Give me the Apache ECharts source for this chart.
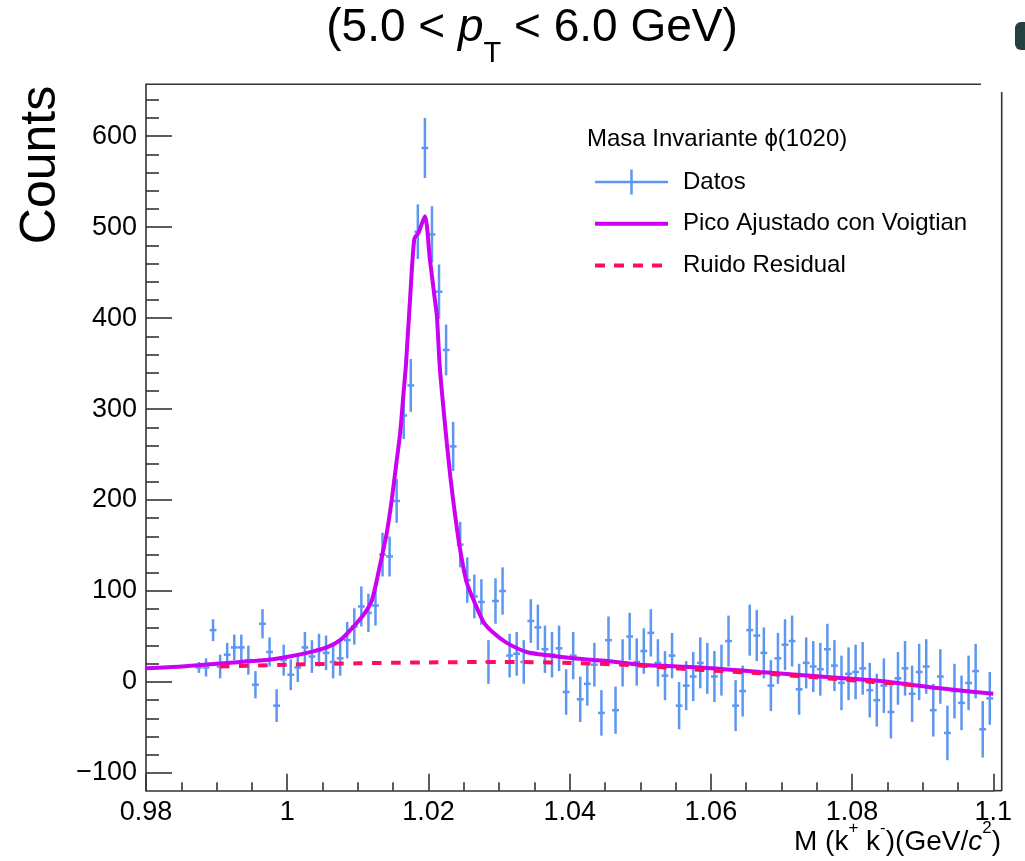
<!DOCTYPE html>
<html><head><meta charset="utf-8">
<script src="https://cdn.jsdelivr.net/npm/echarts@6/dist/echarts.min.js"></script>
<style>html,body{margin:0;padding:0;background:#fff}#c{width:1025px;height:861px}</style>
</head><body><div id="c"></div>
<script>
// Histogram bin centres (GeV/c^2)
const binCenters = [
0.9875,0.9885,0.9895,0.9905,0.9915,0.9925,0.9935,0.9945,0.9955,0.9965,0.9975,0.9985,0.9995,
1.0005,1.0015,1.0025,1.0035,1.0045,1.0055,1.0065,1.0075,1.0085,1.0095,
1.0105,1.0115,1.0125,1.0135,1.0145,1.0155,1.0165,1.0175,1.0185,1.0195,
1.0205,1.0215,1.0225,1.0235,1.0245,1.0255,1.0265,1.0275,1.0285,1.0295,
1.0305,1.0315,1.0325,1.0335,1.0345,1.0355,1.0365,1.0375,1.0385,1.0395,
1.0405,1.0415,1.0425,1.0435,1.0445,1.0455,1.0465,1.0475,1.0485,1.0495,
1.0505,1.0515,1.0525,1.0535,1.0545,1.0555,1.0565,1.0575,1.0585,1.0595,
1.0605,1.0615,1.0625,1.0635,1.0645,1.0655,1.0665,1.0675,1.0685,1.0695,
1.0705,1.0715,1.0725,1.0735,1.0745,1.0755,1.0765,1.0775,1.0785,1.0795,
1.0805,1.0815,1.0825,1.0835,1.0845,1.0855,1.0865,1.0875,1.0885,1.0895,
1.0905,1.0915,1.0925,1.0935,1.0945,1.0955,1.0965,1.0975,1.0985,1.0995];
const counts = [
16,16,57,17,30,38,38,24,-3,64,33,-26,24,
8,16,38,28,35,32,22,26,46,61,
83,76,84,140,138,199,293,326,495,587,
492,429,365,259,151,112,94,88,22,89,
100,29,31,22,67,60,36,30,37,-11,
29,-19,-2,19,-34,46,-31,21,50,22,
34,54,21,7,29,-26,-4,6,21,15,
6,13,45,-26,-10,57,51,32,-4,26,
41,45,-8,21,17,14,36,18,-1,9,
11,15,-9,-20,-4,-33,4,15,-13,11,
17,-31,6,-56,-10,-23,-1,12,-52,-18];
const countErrors = [
6,10,12,13,13,14,14,16,15,16,16,18,17,
17,16,17,18,18,19,18,19,20,20,
22,21,22,24,22,24,26,29,30,33,
31,30,28,27,25,25,24,25,24,25,
26,24,24,24,24,25,26,25,25,25,
26,25,24,24,25,26,26,26,26,26,
25,26,26,27,25,26,27,27,28,28,
28,28,28,28,28,28,28,28,28,28,
28,28,28,28,28,29,28,28,30,29,
30,29,30,29,30,29,29,30,31,31,
30,29,30,30,30,30,30,30,31,29];
// Fitted Voigtian peak + background
const fitX = [0.9800,0.9850,0.9900,0.9950,0.9980,1.0028,1.0056,1.0075,1.0094,1.0110,1.0120,1.0131,1.0141,1.0148,1.0154,1.0160,1.0164,1.0168,1.0171,1.0174,1.0180,1.0186,1.0195,1.0202,1.0209,1.0212,1.0216,1.0221,1.0226,1.0231,1.0238,1.0245,1.0254,1.0264,1.0278,1.0292,1.0311,1.0339,1.0372,1.0405,1.0453,1.0500,1.0585,1.0670,1.0783,1.0840,1.0925,1.1000];
const fitY = [15,17,20,23,25,32,38,46,61,76,90,127,164,200,237,274,311,347,384,421,487,494,512,465,421,402,347,303,263,226,182,145,110,90,66,54,43,33,29,26,23,19,16,11,4.5,1,-7,-13];
// Residual background
const bkgX = [0.9905,1.0000,1.0100,1.0200,1.0300,1.0400,1.0500,1.0560,1.0615,1.0670,1.0722,1.0773,1.0830,1.0895];
const bkgY = [17,19,20.5,21.5,22,21,18,14.5,12,9.5,6.6,3.5,0,-4];
// Axis ticks
const xTickLabels = [0.98,1.00,1.02,1.04,1.06,1.08,1.10];
const yTickLabels = [-100,0,100,200,300,400,500,600];

const xMinor = []; for (let i = 0; i <= 24; i++) { if (i % 4) xMinor.push(+(0.98 + i * 0.005).toFixed(3)); }
const yMinor = []; for (let v = -100; v <= 640; v += 20) { if (v % 100) yMinor.push(v); }

const FONT = '"Liberation Sans", Arial, Helvetica, sans-serif';
const AX = '#333';
const BLUE = '#5d97f2', MAG = '#cc00f2', RED = '#ff0a64';

const dataPts = binCenters.map((x, i) => [x, counts[i], countErrors[i]]);
const fitPts = fitX.map((x, i) => [x, fitY[i]]);
const bkgPts = bkgX.map((x, i) => [x, bkgY[i]]);

const chart = echarts.init(document.getElementById('c'), null, {renderer: 'canvas'});
const XMIN = 0.98, XMAX = 1.1, YMIN = -119.5, YMAX = 657;

chart.setOption({
  animation: false,
  backgroundColor: '#fff',
  textStyle: {fontFamily: FONT},
  title: [{
    text: '{n|(5.0 < }{i|p}{s|T}{n| < 6.0 GeV)}',
    left: 532, top: 5, padding: 0, textAlign: 'center',
    textStyle: {fontWeight: 'normal', rich: {
      n: {fontSize: 46, lineHeight: 50, verticalAlign: 'top', fontWeight: 'normal', color: '#000', fontFamily: FONT},
      i: {fontSize: 46, lineHeight: 50, verticalAlign: 'top', fontWeight: 'normal', fontStyle: 'italic', color: '#000', fontFamily: FONT},
      s: {fontSize: 29, lineHeight: 29, verticalAlign: 'top', fontWeight: 'normal', padding: [34, 0, 0, 0], color: '#000', fontFamily: FONT}
    }}
  }, {
    text: 'Masa Invariante ϕ(1020)',
    left: 587, top: 127, padding: 0,
    textStyle: {fontSize: 24, fontWeight: 'normal', color: '#000', fontFamily: FONT}
  }],
  legend: {
    orient: 'vertical', left: 593, top: 169.5, padding: 0,
    itemWidth: 73, itemHeight: 25, itemGap: 16.7,
    textStyle: {fontSize: 24, color: '#000', fontFamily: FONT, lineHeight: 25, padding: [0, 0, 0, 10]},
    data: [
      {name: 'Datos', icon: 'path://M0,11.25 H73 V13.75 H0 Z M35.25,0 H37.75 V25 H35.25 Z'},
      {name: 'Pico Ajustado con Voigtian', itemStyle: {opacity: 0}, lineStyle: {width: 4, color: MAG}},
      {name: 'Ruido Residual', itemStyle: {opacity: 0}, lineStyle: {width: 4, color: RED, type: [10, 9]}}
    ]
  },
  grid: {left: 146, right: 31.7, top: 84.3, bottom: 70.3, containLabel: false},
  xAxis: [{
    type: 'value', min: XMIN, max: XMAX, position: 'bottom',
    axisLine: {show: true, onZero: false, lineStyle: {color: AX, width: 1.6}},
    axisTick: {show: true, inside: true, length: 17, customValues: xTickLabels, lineStyle: {color: AX, width: 1.6}},
    axisLabel: {show: true, customValues: xTickLabels, margin: 8, fontSize: 27, color: '#000', fontFamily: FONT,
      formatter: v => String(Number(v.toFixed(2)))},
    splitLine: {show: false}
  }, {
    type: 'value', min: XMIN, max: XMAX, position: 'bottom', offset: 0,
    axisLine: {show: false, onZero: false},
    axisTick: {show: true, inside: true, length: 8.5, customValues: xMinor, lineStyle: {color: AX, width: 1.6}},
    axisLabel: {show: false},
    splitLine: {show: false}
  }],
  yAxis: [{
    type: 'value', min: YMIN, max: YMAX, position: 'left',
    axisLine: {show: true, onZero: false, lineStyle: {color: AX, width: 1.6}},
    axisTick: {show: true, inside: true, length: 26, customValues: yTickLabels, lineStyle: {color: AX, width: 1.6}},
    axisLabel: {show: true, customValues: yTickLabels, margin: 9, fontSize: 27, color: '#000', fontFamily: FONT,
      formatter: v => v < 0 ? '\u2212' + (-v) : String(v)},
    splitLine: {show: false}
  }, {
    type: 'value', min: YMIN, max: YMAX, position: 'left', offset: 0,
    axisLine: {show: false, onZero: false},
    axisTick: {show: true, inside: true, length: 13, customValues: yMinor, lineStyle: {color: AX, width: 1.6}},
    axisLabel: {show: false},
    splitLine: {show: false}
  }],
  series: [{
    name: 'Datos', type: 'custom', xAxisIndex: 0, yAxisIndex: 0,
    itemStyle: {color: BLUE},
    encode: {x: 0, y: 1},
    data: dataPts,
    renderItem: (params, api) => {
      const x = api.value(0), y = api.value(1), e = api.value(2);
      const c = api.coord([x, y]);
      const t = api.coord([x, y + e]);
      const b = api.coord([x, y - e]);
      return {type: 'group', children: [
        {type: 'line', shape: {x1: c[0], y1: t[1], x2: c[0], y2: b[1]}, style: {stroke: BLUE, lineWidth: 2.5}},
        {type: 'line', shape: {x1: c[0] - 3.4, y1: c[1], x2: c[0] + 3.4, y2: c[1]}, style: {stroke: BLUE, lineWidth: 2.5}}
      ]};
    },
    z: 2
  }, {
    name: 'Pico Ajustado con Voigtian', type: 'line', xAxisIndex: 0, yAxisIndex: 0,
    data: fitPts, showSymbol: false, symbol: 'none', smooth: 0.25,
    lineStyle: {color: MAG, width: 4}, itemStyle: {color: MAG}, z: 3
  }, {
    name: 'Ruido Residual', type: 'line', xAxisIndex: 0, yAxisIndex: 0,
    data: bkgPts, showSymbol: false, symbol: 'none', smooth: 0.3,
    lineStyle: {color: RED, width: 4, type: [9.5, 9.5]}, itemStyle: {color: RED}, z: 4
  }],
  graphic: [
    {type: 'line', shape: {x1: 146, y1: 84.3, x2: 981, y2: 84.3}, style: {stroke: AX, lineWidth: 1.6}, silent: true},
    {type: 'line', shape: {x1: 1001.7, y1: 92, x2: 1001.7, y2: 791}, style: {stroke: AX, lineWidth: 1.6}, silent: true},
    {type: 'line', shape: {x1: 993, y1: 790.7, x2: 1001.7, y2: 790.7}, style: {stroke: AX, lineWidth: 1.6}, silent: true},
    {type: 'text', x: 41, y: 165, rotation: Math.PI / 2,
      style: {text: 'Counts', font: '50px "Liberation Sans", Arial, sans-serif', fill: '#000', textAlign: 'center', textVerticalAlign: 'middle'}},
    {type: 'text', right: 24, top: 820,
      style: {text: '{n|M (k}{s|+}{n| k}{s|-}{n|)(GeV/}{i|c}{s|2}{n|)}', fill: '#000',
        rich: {
          n: {fontSize: 28, lineHeight: 36, verticalAlign: 'bottom', fontFamily: FONT, fill: '#000'},
          i: {fontSize: 28, lineHeight: 36, verticalAlign: 'bottom', fontStyle: 'italic', fontFamily: FONT, fill: '#000'},
          s: {fontSize: 17, lineHeight: 17, verticalAlign: 'top', fontFamily: FONT, fill: '#000'}
        }}},
    {type: 'rect', shape: {x: 1015, y: 22, width: 12, height: 28, r: [6, 0, 0, 6]}, style: {fill: '#24403f'}, silent: true}
  ]
});
</script>
</body></html>
